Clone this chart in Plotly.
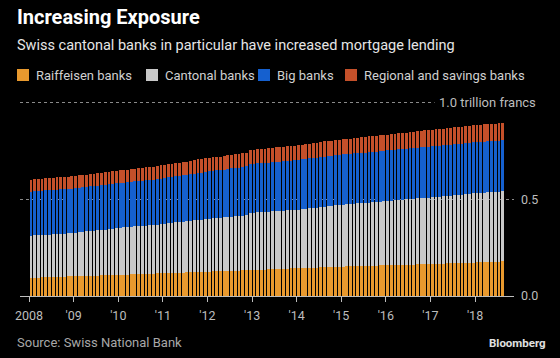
import plotly.graph_objects as go

# ---------------- data (trillion CHF, monthly Jan 2008 - Aug 2018) ----------------
months = [f"{y}-{m:02d}" for y in range(2008, 2019) for m in range(1, 13)][:128]

raiffeisen = [
    .094, .095, .095, .096, .097, .097, .098, .099, .099, .100, .101, .101,
    .102, .103, .103, .104, .105, .105, .106, .107, .107, .108, .109, .109,
    .110, .111, .111, .112, .113, .113, .114, .115, .115, .116, .117, .117,
    .118, .119, .119, .120, .121, .121, .122, .123, .123, .124, .125, .125,
    .126, .127, .128, .128, .129, .130, .131, .131, .132, .133, .134, .134,
    .135, .136, .137, .137, .138, .139, .140, .140, .141, .142, .143, .143,
    .144, .145, .145, .146, .147, .147, .148, .149, .149, .150, .151, .151,
    .152, .153, .153, .154, .154, .155, .155, .156, .157, .157, .158, .158,
    .159, .160, .160, .161, .161, .162, .162, .163, .164, .164, .165, .165,
    .166, .167, .167, .168, .169, .169, .170, .171, .171, .172, .173, .173,
    .174, .175, .175, .176, .177, .177, .178, .179,
]
cantonal = [
    .219, .219, .220, .220, .221, .221, .222, .222, .223, .223, .224, .224,
    .225, .227, .228, .230, .231, .233, .234, .236, .237, .239, .240, .242,
    .243, .244, .245, .246, .247, .248, .249, .250, .251, .252, .253, .255,
    .256, .258, .259, .261, .262, .264, .265, .267, .268, .270, .271, .273,
    .274, .275, .276, .277, .278, .279, .280, .281, .282, .283, .284, .295,
    .296, .297, .297, .298, .298, .299, .299, .300, .300, .301, .301, .302,
    .303, .305, .306, .308, .309, .311, .312, .314, .315, .317, .318, .320,
    .321, .322, .323, .324, .325, .326, .327, .328, .329, .330, .331, .332,
    .333, .334, .335, .336, .337, .338, .339, .340, .341, .342, .343, .345,
    .346, .347, .348, .349, .350, .351, .352, .353, .354, .355, .356, .358,
    .359, .360, .360, .361, .362, .362, .363, .364,
]
big = [
    .228, .228, .228, .229, .229, .229, .229, .230, .230, .230, .230, .231,
    .231, .231, .231, .231, .231, .231, .232, .232, .232, .232, .232, .232,
    .232, .232, .233, .233, .233, .234, .234, .234, .235, .235, .235, .236,
    .236, .237, .237, .238, .239, .240, .240, .241, .242, .243, .243, .244,
    .245, .246, .247, .247, .248, .249, .250, .250, .251, .252, .253, .253,
    .254, .254, .255, .255, .255, .256, .256, .256, .257, .257, .257, .258,
    .258, .258, .258, .258, .259, .259, .259, .259, .259, .259, .260, .260,
    .260, .260, .260, .260, .261, .261, .261, .261, .261, .261, .262, .262,
    .262, .262, .262, .262, .263, .263, .263, .263, .263, .263, .264, .264,
    .264, .264, .264, .264, .264, .264, .264, .264, .264, .264, .264, .264,
    .264, .264, .264, .264, .264, .264, .264, .264,
]
regional = [
    .062, .062, .062, .062, .062, .062, .063, .063, .063, .063, .063, .063,
    .063, .063, .063, .064, .064, .064, .064, .064, .064, .065, .065, .065,
    .065, .065, .065, .066, .066, .066, .067, .067, .067, .067, .068, .068,
    .068, .068, .068, .068, .069, .069, .069, .069, .069, .070, .070, .070,
    .070, .070, .070, .070, .071, .071, .071, .071, .071, .072, .072, .072,
    .072, .072, .073, .073, .073, .074, .074, .074, .075, .075, .075, .076,
    .076, .076, .076, .077, .077, .077, .078, .078, .078, .078, .079, .079,
    .079, .079, .079, .080, .080, .080, .081, .081, .081, .081, .082, .082,
    .082, .082, .082, .083, .083, .083, .084, .084, .084, .084, .085, .085,
    .085, .085, .085, .086, .086, .086, .087, .087, .087, .087, .088, .088,
    .088, .088, .089, .089, .089, .090, .090, .091,
]

series_names = ["Raiffeisen banks", "Cantonal banks", "Big banks", "Regional and savings banks"]
series_values = [raiffeisen, cantonal, big, regional]
colors = ["#E8992E", "#C8C8C8", "#1560CF", "#C4502A"]

tick_dates = [f"{y}-01-01" for y in range(2008, 2019)]
tick_labels = ["2008", "'09", "'10", "'11", "'12", "'13", "'14", "'15", "'16", "'17", "'18"]

# ---------------- layout geometry ----------------
W, H = 560, 358
ML, MR, MT, MB = 20, 46, 99, 62
PW, PH = W - ML - MR, H - MT - MB


def px(x):
    return (x - ML) / PW


def py(y):
    return (H - MB - y) / PH


FONT = "Roboto"
MONTH_MS = 30.44 * 24 * 3600 * 1000

fig = go.Figure()
for name, vals, col in zip(series_names, series_values, colors):
    fig.add_trace(go.Bar(
        x=months, y=vals, name=name, marker=dict(color=col, line=dict(width=0)),
        xperiod="M1", xperiodalignment="middle", width=0.76 * MONTH_MS,
        showlegend=False,
    ))

fig.update_layout(
    barmode="stack",
    width=W, height=H,
    margin=dict(l=ML, r=MR, t=MT, b=MB),
    paper_bgcolor="black", plot_bgcolor="black",
    font=dict(family=FONT, color="#bdbdbd", size=12),
    xaxis=dict(
        type="date",
        range=["2007-10-19", "2018-11-16"],
        tickvals=tick_dates, ticktext=tick_labels,
        showgrid=False, zeroline=False,
        showline=True, linecolor="#bdbdbd", linewidth=1,
        ticks="outside", ticklen=5, tickcolor="#bdbdbd",
        ticklabelstandoff=3,
        tickfont=dict(size=12.5, color="#bdbdbd"),
    ),
    yaxis=dict(
        range=[0, 1.02], side="right",
        tickvals=[0, 0.5, 1.0], ticktext=["0.0", "0.5", ""],
        showgrid=True, gridcolor="#8a8a8a", griddash="dot", gridwidth=1,
        zeroline=False, showline=False, ticks="",
        ticklabelstandoff=6,
        tickfont=dict(size=12.5, color="#bdbdbd"),
    ),
    bargap=0,
)

ann = []
ann.append(dict(text="<b>Increasing Exposure</b>", x=px(15), y=py(17), xref="paper", yref="paper",
                xanchor="left", yanchor="middle", showarrow=False,
                font=dict(family=FONT, size=20, color="white")))
ann.append(dict(text="Swiss cantonal banks in particular have increased mortgage lending",
                x=px(15), y=py(46), xref="paper", yref="paper",
                xanchor="left", yanchor="middle", showarrow=False,
                font=dict(family=FONT, size=14.5, color="#e6e6e6")))
# legend (squares + labels)
leg_sq = [17, 146, 258, 345]
for name, col, x0 in zip(series_names, colors, leg_sq):
    fig.add_shape(type="rect", xref="paper", yref="paper",
                  x0=px(x0), x1=px(x0 + 12), y0=py(81), y1=py(69),
                  fillcolor=col, line=dict(width=0))
    ann.append(dict(text=name, x=px(x0 + 17), y=py(75), xref="paper", yref="paper",
                    xanchor="left", yanchor="middle", showarrow=False,
                    font=dict(family=FONT, size=13, color="#d0d0d0")))
ann.append(dict(text="1.0 trillion francs", x=px(541), y=1.0, xref="paper", yref="y",
                xanchor="right", yanchor="middle", showarrow=False, bgcolor="black",
                borderpad=4, font=dict(family=FONT, size=13, color="#bdbdbd")))
ann.append(dict(text="Source: Swiss National Bank", x=px(15), y=py(342), xref="paper", yref="paper",
                xanchor="left", yanchor="middle", showarrow=False,
                font=dict(family=FONT, size=13, color="#a8a8a8")))
ann.append(dict(text="<b>Bloomberg</b>", x=px(548), y=py(343), xref="paper", yref="paper",
                xanchor="right", yanchor="middle", showarrow=False,
                font=dict(family=FONT, size=11.5, color="#e0e0e0")))
fig.update_layout(annotations=ann)

fig.write_html(
    "out.html",
    config={"displayModeBar": False},
    post_script="document.body.style.margin='0px';document.body.style.background='black';",
)
